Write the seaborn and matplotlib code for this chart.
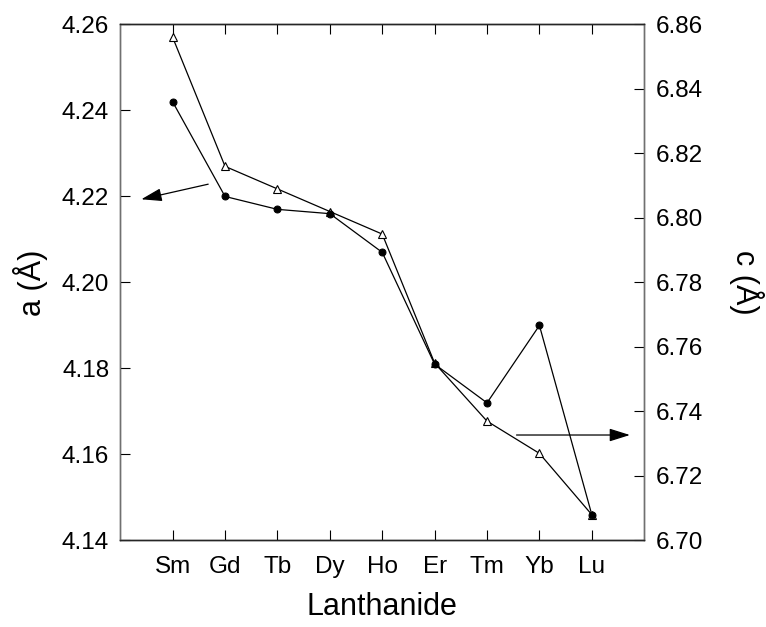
import numpy as np
import pandas as pd
import matplotlib
matplotlib.use('Agg')
import matplotlib.pyplot as plt
import seaborn as sns

# 란타나이드별 격자상수
lanthanides = ['Sm', 'Gd', 'Tb', 'Dy', 'Ho', 'Er', 'Tm', 'Yb', 'Lu']
a_values = [4.242, 4.220, 4.217, 4.216, 4.207, 4.181, 4.172, 4.190, 4.146]
c_values = [6.856, 6.816, 6.809, 6.802, 6.795, 6.755, 6.737, 6.727, 6.708]

sns.set_style('ticks')
plt.rcParams['font.family'] = ['Liberation Sans', 'DejaVu Sans']
plt.rcParams['text.color'] = 'black'
plt.rcParams['axes.labelcolor'] = 'black'
plt.rcParams['xtick.color'] = 'black'
plt.rcParams['ytick.color'] = 'black'

df = pd.DataFrame({'pos': np.arange(len(lanthanides)),
                   'a': a_values,
                   'c': c_values})

fig, ax1 = plt.subplots(figsize=(7.66, 6.27), dpi=100)
fig.subplots_adjust(left=0.157, right=0.841, top=0.961, bottom=0.138)
ax2 = ax1.twinx()
# 원 마커가 삼각형 위에 오도록
ax1.set_zorder(ax2.get_zorder() + 1)
ax1.patch.set_visible(False)

# a: 검은 원
sns.lineplot(data=df, x='pos', y='a', ax=ax1, color='black', lw=0.9,
             marker='o', markersize=5, markeredgecolor='black',
             markerfacecolor='black', sort=False)

# c: 빈 삼각형
sns.lineplot(data=df, x='pos', y='c', ax=ax2, color='black', lw=0.9,
             marker='^', markersize=5.5, markeredgecolor='black',
             markerfacecolor='white', markeredgewidth=0.8, sort=False)

ax1.set_xlim(-1, len(lanthanides))
ax1.set_ylim(4.14, 4.26)
ax2.set_ylim(6.70, 6.86)
ax1.set_yticks(np.arange(4.14, 4.261, 0.02))
ax2.set_yticks(np.arange(6.70, 6.861, 0.02))
ax1.set_yticklabels([f'{v:.2f}' for v in np.arange(4.14, 4.261, 0.02)])
ax2.set_yticklabels([f'{v:.2f}' for v in np.arange(6.70, 6.861, 0.02)])
ax1.set_xticks(df['pos'])
ax1.set_xticklabels(lanthanides)

ax1.tick_params(axis='x', direction='in', top=True, length=7, width=0.8,
                labelsize=17.5, pad=11)
ax1.tick_params(axis='y', direction='in', length=7, width=0.8,
                labelsize=17.5, pad=8)
ax2.tick_params(axis='y', direction='in', length=7, width=0.8,
                labelsize=17.5, pad=8)

for sp in ['left', 'right']:
    ax1.spines[sp].set_color('#707070')
    ax2.spines[sp].set_color('#707070')
for a in (ax1, ax2):
    for sp in a.spines.values():
        sp.set_linewidth(1.0)

ax1.set_xlabel('Lanthanide', fontsize=22, labelpad=10)
ax1.set_ylabel('a (Å)', fontsize=22, labelpad=10)
ax2.set_ylabel('c (Å)', fontsize=22, rotation=270, labelpad=44)

# 화살표: 어느 축인지 표시
arrow = dict(arrowstyle='-|>,head_length=0.7,head_width=0.22',
             color='black', lw=0.9, mutation_scale=18)
ax1.annotate('', xy=(-0.65, 4.2192), xytext=(0.73, 4.223), arrowprops=arrow)
ax2.annotate('', xy=(8.78, 6.7327), xytext=(6.51, 6.7327), arrowprops=arrow)

plt.savefig('out.png', dpi=100)
